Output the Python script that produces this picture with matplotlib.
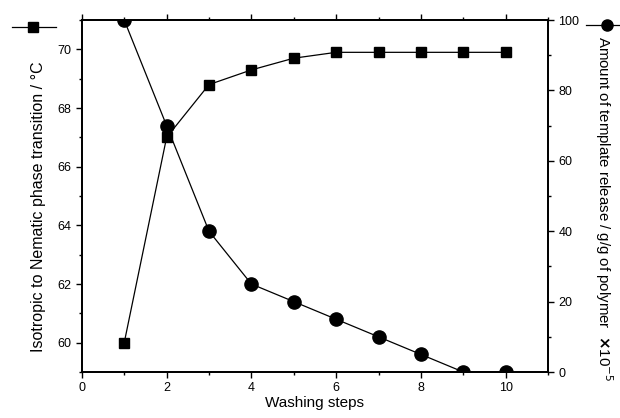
import matplotlib
matplotlib.use('Agg')
import matplotlib.pyplot as plt
from matplotlib.lines import Line2D
from matplotlib.ticker import MultipleLocator

plt.rcParams['font.family'] = ['Liberation Sans', 'DejaVu Sans']

# data
pasos = [1, 2, 3, 4, 5, 6, 7, 8, 9, 10]
transicion = [60.0, 67.0, 68.8, 69.3, 69.7, 69.9, 69.9, 69.9, 69.9, 69.9]
liberacion = [100, 70, 40, 25, 20, 15, 10, 5, 0, 0]

fig = plt.figure(figsize=(6.2, 4.18), dpi=100)
ax = fig.add_axes([0.132, 0.110, 0.752, 0.842])
ax2 = ax.twinx()

ax.plot(pasos, transicion, 'k-', marker='s', markersize=7, linewidth=0.9)
ax2.plot(pasos, liberacion, 'k-', marker='o', markersize=9.5, linewidth=0.9)

ax.set_xlim(0, 11)
ax.set_ylim(59, 71)
ax2.set_ylim(0, 100)

ax.xaxis.set_major_locator(MultipleLocator(2))
ax.xaxis.set_minor_locator(MultipleLocator(1))
ax.yaxis.set_major_locator(MultipleLocator(2))
ax.yaxis.set_minor_locator(MultipleLocator(1))
ax2.yaxis.set_major_locator(MultipleLocator(20))
ax2.yaxis.set_minor_locator(MultipleLocator(10))

ax.tick_params(axis='both', which='both', direction='out', labelsize=9, width=1)
ax.tick_params(axis='x', which='both', top=True, labeltop=False)
ax.tick_params(which='major', length=4)
ax.tick_params(which='minor', length=2.5)
ax2.tick_params(which='major', direction='out', length=4, labelsize=9, width=1)
ax2.tick_params(which='minor', direction='out', length=2.5, width=1)
for a in (ax, ax2):
    for s in a.spines.values():
        s.set_linewidth(1.3)

ax.set_xlabel('Washing steps', fontsize=11, labelpad=1)
ax.set_ylabel('Isotropic to Nematic phase transition / \u00b0C', fontsize=11.5, labelpad=8)
ax.yaxis.label.set_y(0.47)
ax2.set_ylabel('Amount of template release / g/g of polymer  $\\mathbf{\\times}$10$^{-5}$',
               fontsize=10.8, rotation=-90, labelpad=10, va='bottom')
ax2.yaxis.label.set_y(0.465)

# claves de las series junto a los ejes
fig.add_artist(Line2D([0.02, 0.09], [0.935, 0.935], color='k', linewidth=0.9))
fig.add_artist(Line2D([0.054], [0.935], color='k', marker='s', markersize=7))
fig.add_artist(Line2D([0.945, 1.0], [0.94, 0.94], color='k', linewidth=0.9))
fig.add_artist(Line2D([0.979], [0.94], color='k', marker='o', markersize=8))

fig.savefig('out.png', dpi=100)
